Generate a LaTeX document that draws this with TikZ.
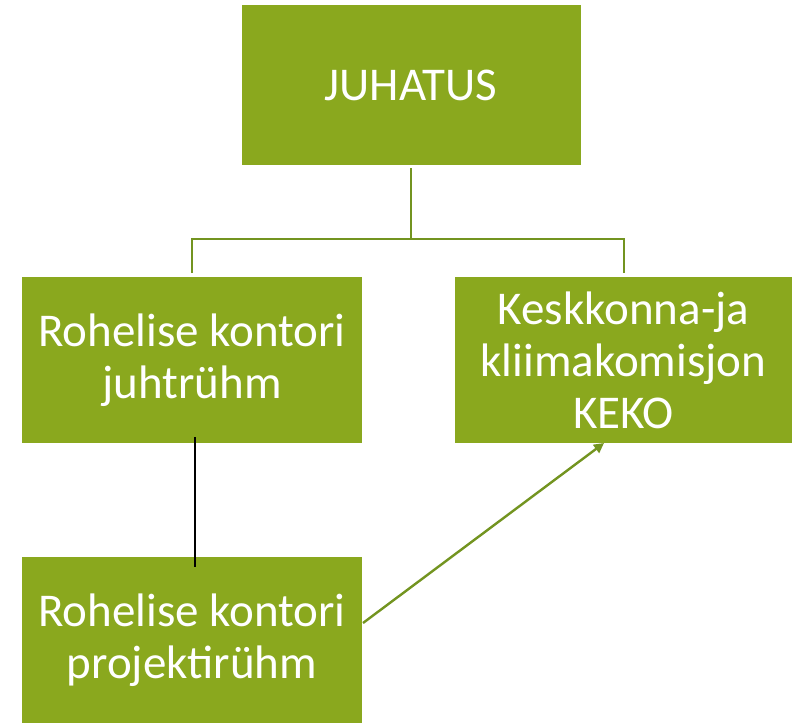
\documentclass[tikz,border=0pt]{standalone}
\usepackage{fontspec}
\setmainfont{Carlito}
\usetikzlibrary{arrows.meta}
\definecolor{boxgreen}{HTML}{8AA81E}
\definecolor{linegreen}{HTML}{739420}
\begin{document}
\begin{tikzpicture}[x=1pt,y=-1pt,
  box/.style={fill=boxgreen,draw=none,text=white,align=center,inner sep=0pt,
    font=\fontsize{47}{52}\selectfont},
  conn/.style={draw=linegreen,line width=2.4pt}]
\useasboundingbox (0,0) rectangle (792,723);
\node[box,minimum width=339pt,minimum height=160pt] (juh) at (411,85) {JUHATUS};
\node[box,minimum width=340pt,minimum height=166pt] (rkj) at (192,360) {Rohelise kontori\\juhtrühm};
\node[box,minimum width=337pt,minimum height=166pt] (keko) at (623.5,360) {Keskkonna-ja\\kliimakomisjon\\KEKO};
\node[box,minimum width=340pt,minimum height=166pt] (rkp) at (192,640) {Rohelise kontori\\projektirühm};
\coordinate (jb) at (411,168);
\coordinate (mid) at (411,239);
\coordinate (lt) at (192,273);
\coordinate (rt) at (624,273);
\draw[conn] (jb) -- (mid);
\draw[conn] (lt) |- (mid) -| (rt);
\coordinate (ka) at (195,437);
\coordinate (kb) at (195,567);
\draw[black,line width=2.8pt] (ka) -- (kb);
\coordinate (ps) at (363,623);
\coordinate (pe) at (604,443);
\draw[conn,-{Triangle[length=10pt,width=10pt]}] (ps) -- (pe);
\end{tikzpicture}
\end{document}
